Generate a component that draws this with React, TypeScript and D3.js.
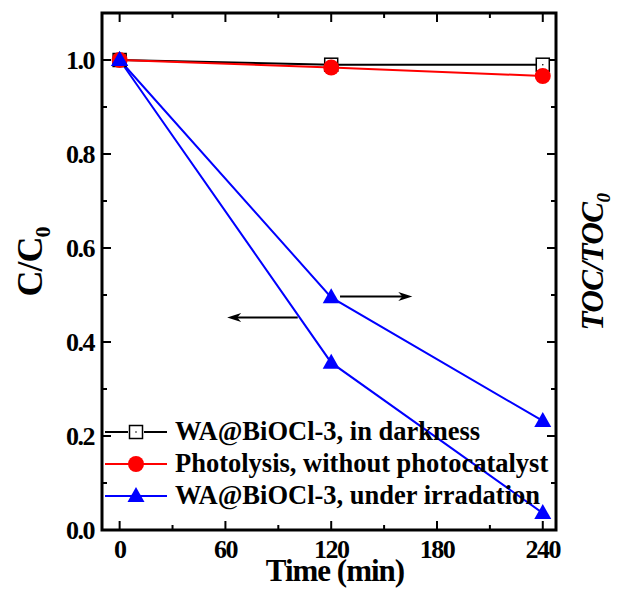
import React from 'react'
import * as d3 from 'd3'

const times = [0, 120, 240]
const darkness = [1.0, 0.99, 0.99]
const photolysis = [1.0, 0.984, 0.966]
const irradiationC = [1.0, 0.356, 0.036]
const irradiationTOC = [1.0, 0.495, 0.232]

const xMajor = [0, 60, 120, 180, 240]
const xMinor = [30, 90, 150, 210]
const yMajor = [0, 0.2, 0.4, 0.6, 0.8, 1.0]
const yMinor = [0.1, 0.3, 0.5, 0.7, 0.9]

const legendLabels = [
  'WA@BiOCl-3, in darkness',
  'Photolysis, without photocatalyst',
  'WA@BiOCl-3, under irradation',
]

const FONT = '"Liberation Serif", "Times New Roman", serif'

const width = 619
const height = 590
const left = 102
const right = 556
const top = 13
const bottom = 530

const x = d3.scaleLinear().domain([-10, 247.5]).range([left, right])
const y = d3.scaleLinear().domain([0, 1.1]).range([bottom, top])

const line = d3.line<[number, number]>()
  .x(d => x(d[0]))
  .y(d => y(d[1]))

const toPts = (vals: number[]) => times.map((t, i) => [t, vals[i]] as [number, number])

const Square = ({cx, cy}: {cx: number, cy: number}) => <g>
  <rect x={cx - 6.5} y={cy - 6.5} width={13} height={13} fill="white" stroke="black" strokeWidth={1.5} />
  <circle cx={cx} cy={cy} r={0.8} fill="black" />
</g>

const Dot = ({cx, cy}: {cx: number, cy: number}) => <circle cx={cx} cy={cy} r={8} fill="red" />

const Tri = ({cx, cy}: {cx: number, cy: number}) =>
  <path d={`M${cx},${cy - 9} L${cx + 8.5},${cy + 6} L${cx - 8.5},${cy + 6} Z`} fill="blue" />

const Arrow = ({x1, x2, yv}: {x1: number, x2: number, yv: number}) => {
  const dir = Math.sign(x2 - x1)
  const tx = x(x2), ty = y(yv)
  return <g>
    <line x1={x(x1)} x2={tx - dir * 8} y1={ty} y2={ty} stroke="black" strokeWidth={2} />
    <path d={`M${tx},${ty} L${tx - dir * 14},${ty - 4.5} L${tx - dir * 10},${ty} L${tx - dir * 14},${ty + 4.5} Z`} fill="black" />
  </g>
}

export default function App() {
  const legendY = [432, 464, 496]
  return <svg width={width} height={height} style={{position: 'absolute', left: 0, top: 0}}
    fontFamily={FONT} fontWeight="bold">
    <rect width={width} height={height} fill="white" />

    {/* ticks, all pointing inward */}
    {xMajor.map(t => <g key={'xM' + t}>
      <line x1={x(t)} x2={x(t)} y1={bottom} y2={bottom - 9} stroke="black" strokeWidth={2} />
      <line x1={x(t)} x2={x(t)} y1={top} y2={top + 9} stroke="black" strokeWidth={2} />
      <text x={x(t)} y={558} fontSize={26} textAnchor="middle" letterSpacing={-1.5}>{t}</text>
    </g>)}
    {xMinor.map(t => <g key={'xm' + t}>
      <line x1={x(t)} x2={x(t)} y1={bottom} y2={bottom - 5} stroke="black" strokeWidth={2} />
      <line x1={x(t)} x2={x(t)} y1={top} y2={top + 5} stroke="black" strokeWidth={2} />
    </g>)}
    {yMajor.map(t => <g key={'yM' + t}>
      <line x1={left} x2={left + 9} y1={y(t)} y2={y(t)} stroke="black" strokeWidth={2} />
      <line x1={right} x2={right - 9} y1={y(t)} y2={y(t)} stroke="black" strokeWidth={2} />
      <text x={94} y={y(t) + 9} fontSize={26} textAnchor="end" letterSpacing={-1.5}>{t.toFixed(1)}</text>
    </g>)}
    {yMinor.map(t => <g key={'ym' + t}>
      <line x1={left} x2={left + 5} y1={y(t)} y2={y(t)} stroke="black" strokeWidth={2} />
      <line x1={right} x2={right - 5} y1={y(t)} y2={y(t)} stroke="black" strokeWidth={2} />
    </g>)}

    <rect x={left} y={top} width={right - left} height={bottom - top} fill="none" stroke="black" strokeWidth={3} />

    {/* series */}
    <path d={line(toPts(darkness)) || ''} fill="none" stroke="black" strokeWidth={2} />
    <path d={line(toPts(photolysis)) || ''} fill="none" stroke="red" strokeWidth={2} />
    <path d={line(toPts(irradiationC)) || ''} fill="none" stroke="blue" strokeWidth={2} />
    <path d={line(toPts(irradiationTOC)) || ''} fill="none" stroke="blue" strokeWidth={2} />
    {times.map((t, i) => <Square key={'s' + t} cx={x(t)} cy={y(darkness[i])} />)}
    {times.map((t, i) => <Dot key={'d' + t} cx={x(t)} cy={y(photolysis[i])} />)}
    {times.map((t, i) => <Tri key={'c' + t} cx={x(t)} cy={y(irradiationC[i])} />)}
    {times.map((t, i) => <Tri key={'o' + t} cx={x(t)} cy={y(irradiationTOC[i])} />)}

    <Arrow x1={101} x2={61} yv={0.452} />
    <Arrow x1={125} x2={166} yv={0.497} />

    {/* legend */}
    <g>
      <line x1={105} x2={128} y1={legendY[0]} y2={legendY[0]} stroke="black" strokeWidth={2} />
      <line x1={144} x2={167} y1={legendY[0]} y2={legendY[0]} stroke="black" strokeWidth={2} />
      <Square cx={136} cy={legendY[0]} />
      <line x1={105} x2={167} y1={legendY[1]} y2={legendY[1]} stroke="red" strokeWidth={2} />
      <Dot cx={136} cy={legendY[1]} />
      <line x1={105} x2={167} y1={legendY[2]} y2={legendY[2]} stroke="blue" strokeWidth={2} />
      <Tri cx={136} cy={legendY[2]} />
      {legendLabels.map((l, i) => <text key={l} x={175} y={legendY[i] + 8} fontSize={26.5}>{l}</text>)}
    </g>

    {/* axis titles */}
    <text x={335} y={581} fontSize={31} textAnchor="middle" letterSpacing={-1}>Time (min)</text>
    <text transform="translate(42,262) rotate(-90)" fontSize={36} textAnchor="middle" letterSpacing={-1}>
      C/C<tspan fontSize={22} dy={8}>0</tspan>
    </text>
    <text transform="translate(603,262) rotate(-90)" fontSize={31} fontStyle="italic" textAnchor="middle" letterSpacing={-0.5}>
      TOC/TOC<tspan fontSize={19} dy={7}>0</tspan>
    </text>
  </svg>
}
